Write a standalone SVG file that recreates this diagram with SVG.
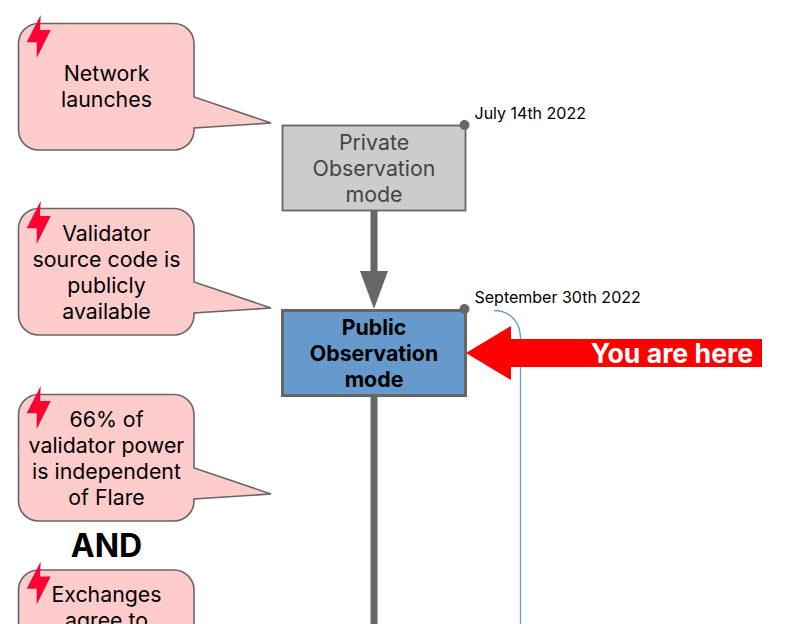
<svg xmlns="http://www.w3.org/2000/svg" width="786" height="624" viewBox="0 0 786 624">
<style>
text{font-family:Inter,"Liberation Sans",sans-serif;text-anchor:middle}
.c{fill:#ffcccc;stroke:#666;stroke-width:1.6}
.b{fill:#ff0033}
.t{font-size:21.330px;fill:#000}
.g{fill:#444}
.d{font-size:16px;fill:#000;text-anchor:start}
.dot{fill:#666}
</style>
<defs>
<path id="callout" class="c" d="M38.500 23.500H174A20 20 0 0 1 194 43.500V97L271 123L194 128V130A20 20 0 0 1 174 150H38.500A20 20 0 0 1 18.500 130V43.500A20 20 0 0 1 38.500 23.500Z"/>
<polygon id="bolt" class="b" points="40.700,15 26.700,42.300 36.800,42.300 36.700,58 50.700,30 40,30"/>
</defs>
<rect width="786" height="624" fill="#fff"/>
<g id="connectors">
<path d="M374 210V272" stroke="#666" stroke-width="7" fill="none"/>
<polygon points="360,271 388,271 374,309" fill="#666"/>
<path d="M374 396V624" stroke="#666" stroke-width="7" fill="none"/>
<path d="M494 310.500C510 310.500 520.500 322 520.500 338V624" stroke="#6699cc" stroke-width="1.300" fill="none"/>
</g>
<g id="callout-network"><use href="#callout"/><use href="#bolt"/>
<text class="t" x="106.500" y="81">Network</text><text class="t" x="106.500" y="107">launches</text></g>
<g id="callout-source"><use href="#callout" y="185"/><use href="#bolt" y="186"/>
<text class="t" x="106.500" y="240.500">Validator</text><text class="t" x="106.500" y="266.500">source code is</text><text class="t" x="106.500" y="292.500">publicly</text><text class="t" x="106.500" y="318.500">available</text></g>
<g id="callout-power"><use href="#callout" y="371"/><use href="#bolt" y="371"/>
<text class="t" x="106.500" y="426.500">66% of</text><text class="t" x="106.500" y="452.500">validator power</text><text class="t" x="106.500" y="478.500">is independent</text><text class="t" x="106.500" y="504.500">of Flare</text></g>
<g id="and"><text x="106.500" y="556.500" font-size="32" font-weight="700" fill="#000">AND</text></g>
<g id="callout-exchanges"><use href="#callout" y="546.500"/><use href="#bolt" y="546.500"/>
<text class="t" x="106.500" y="601.500">Exchanges</text><text class="t" x="106.500" y="627.500">agree to</text></g>
<g id="node-private">
<rect x="282.500" y="125.500" width="183" height="85" fill="#cccccc" stroke="#666" stroke-width="1.800"/>
<text class="t g" x="374" y="149.500" style="fill:#444">Private</text><text class="t g" x="374" y="175.500" style="fill:#444">Observation</text><text class="t g" x="374" y="201.500" style="fill:#444">mode</text>
<circle class="dot" cx="464.500" cy="125" r="5"/>
<text class="d" x="474.500" y="119">July 14th 2022</text></g>
<g id="node-public">
<rect x="282.500" y="310.500" width="183" height="85" fill="#6699cc" stroke="#666" stroke-width="3"/>
<text class="t" x="374" y="334.500" font-weight="700">Public</text><text class="t" x="374" y="360.500" font-weight="700">Observation</text><text class="t" x="374" y="386.500" font-weight="700">mode</text>
<circle class="dot" cx="464.500" cy="309" r="5"/>
<text class="d" x="474.500" y="303">September 30th 2022</text></g>
<g id="you-are-here">
<polygon points="466,353 511,326 511,339 762,339 762,367 511,367 511,380" fill="#ff0000"/>
<text x="672" y="362.500" font-size="26.670" font-weight="700" fill="#fff">You are here</text></g>
</svg>
